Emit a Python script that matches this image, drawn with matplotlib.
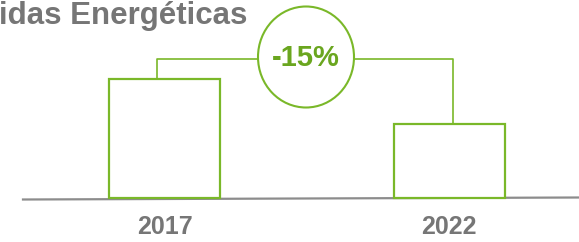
import matplotlib.pyplot as plt
from matplotlib.patches import Ellipse

# data (bar heights in picture units)
years = ['2017', '2022']
values = [119, 74]
change_label = '-15%'
title = 'idas Energéticas'

green = '#7ab829'
green_txt = '#6aa61f'
grey_txt = '#767676'
grey_line = '#8c8c8c'

plt.rcParams['font.family'] = ['Liberation Sans', 'DejaVu Sans']

fig = plt.figure(figsize=(5.79, 2.42), dpi=100)
ax = fig.add_axes([0, 0, 1, 1])
ax.set_xlim(0, 579)
ax.set_ylim(-44, 198)
ax.axis('off')

xpos = [164.5, 449]
ax.bar(xpos, values, width=111, facecolor='white', edgecolor=green, linewidth=1.6, zorder=3)

# baseline
ax.plot([23, 579], [-1.5, 0.5], color=grey_line, linewidth=1.6, zorder=2)

# year labels
for x, yr in zip(xpos, years):
    ax.text(x, -36.5, yr, ha='center', va='baseline', fontsize=18,
            fontweight='bold', color=grey_txt)

# bracket between the two bars
top = max(values) + 20
bx = [157, 453]
ax.plot([bx[0], bx[0], bx[1], bx[1]], [values[0], top, top, values[1]],
        color=green, linewidth=1.2, zorder=2)

# circle with the change
cx = (258 + 354) / 2
ax.add_patch(Ellipse((cx, top + 2), 96, 101, facecolor='white', edgecolor=green,
                     linewidth=1.5, zorder=4))
ax.text(cx, top + 1, change_label, ha='center', va='center', fontsize=21,
        fontweight='bold', color=green_txt, zorder=5)

# title (cut off at the left edge)
ax.text(-1, 174, title, ha='left', va='baseline', fontsize=22.5,
        fontweight='bold', color=grey_txt)

fig.savefig('out.png', dpi=100)
